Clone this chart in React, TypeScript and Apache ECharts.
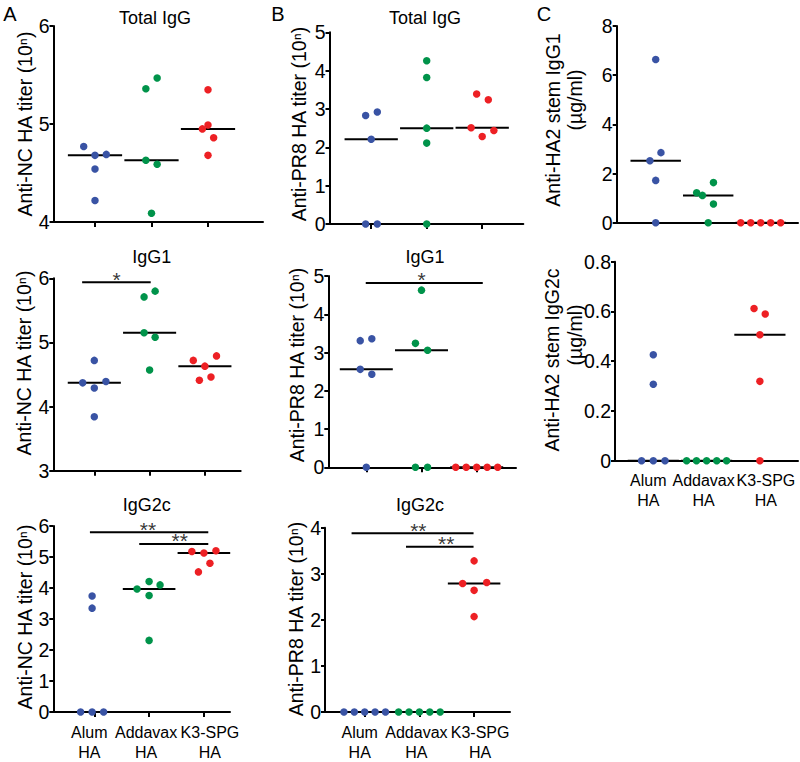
import React, { useEffect, useRef } from 'react';
import * as echarts from 'echarts';

const FONT = "'Liberation Sans', Arial, Helvetica, sans-serif";

// Group names (x categories) and colours
const groupLabels = ['Alum\nHA', 'Addavax\nHA', 'K3-SPG\nHA'];
const groupColors = ['#3953a4', '#00934a', '#ed2024'];

// ---------- Panel A: Anti-NC HA titer (10^n) ----------
const aTotalAlum = [4.77, 4.68, 4.69, 4.54, 4.22];
const aTotalAddavax = [5.36, 5.47, 4.63, 4.59, 4.09];
const aTotalK3 = [5.35, 4.95, 4.99, 4.86, 4.68];

const aIgG1Alum = [4.37, 4.72, 4.39, 4.29, 3.84];
const aIgG1Addavax = [5.71, 5.8, 5.15, 5.08, 4.57];
const aIgG1K3 = [4.72, 4.63, 4.79, 4.41, 4.46];

const aIgG2cAlum = [0, 0, 0, 3.74, 3.35];
const aIgG2cAddavax = [3.97, 4.21, 4.1, 3.76, 2.31];
const aIgG2cK3 = [5.18, 5.13, 5.2, 4.8, 4.52];

// ---------- Panel B: Anti-PR8 HA titer (10^n) ----------
const bTotalAlum = [2.83, 2.92, 2.21, 0, 0];
const bTotalAddavax = [4.26, 3.82, 2.5, 2.11, 0];
const bTotalK3 = [3.39, 3.24, 2.51, 2.44, 2.28];

const bIgG1Alum = [3.31, 3.36, 2.56, 2.43, 0];
const bIgG1Addavax = [4.63, 3.24, 3.06, 0, 0];
const bIgG1K3 = [0, 0, 0, 0, 0];

const bIgG2cAlum = [0, 0, 0, 0, 0];
const bIgG2cAddavax = [0, 0, 0, 0, 0];
const bIgG2cK3 = [3.28, 2.79, 2.81, 2.64, 2.07];

// ---------- Panel C: Anti-HA2 stem (µg/ml) ----------
const cIgG1Alum = [6.64, 2.85, 2.52, 1.72, 0];
const cIgG1Addavax = [1.22, 1.11, 1.63, 0.76, 0];
const cIgG1K3 = [0, 0, 0, 0, 0];

const cIgG2cAlum = [0, 0, 0, 0.426, 0.307];
const cIgG2cAddavax = [0, 0, 0, 0, 0];
const cIgG2cK3 = [0.612, 0.59, 0.506, 0.319, 0];

// Horizontal scatter (jitter) of the dots, in category units
const jitAtotal = [[-0.2, 0, 0.2, 0, 0], [-0.1, 0.1, -0.1, 0.1, 0], [0, -0.1, 0, 0.1, 0]];
const jitAigg1 = [[-0.21, 0, 0.21, 0, 0], [-0.1, 0.1, -0.1, 0.1, 0], [-0.21, 0, 0.21, -0.1, 0.11]];
const jitAigg2c = [[-0.25, -0.04, 0.17, -0.04, -0.04], [-0.22, 0, 0.2, 0, 0], [-0.22, 0, 0.22, 0.11, -0.1]];
const jitBtotal = [[-0.1, 0.11, 0, -0.1, 0.11], [0, 0, 0, 0, 0], [-0.1, 0.11, -0.2, 0.21, 0]];
const jitBigg1 = [[-0.11, 0.1, -0.11, 0.1, 0], [0, -0.11, 0.11, -0.11, 0.11], [-0.38, -0.19, 0, 0.19, 0.38]];
const jitBigg2c = [[-0.38, -0.19, 0, 0.19, 0.38], [-0.38, -0.19, 0, 0.19, 0.38], [0, -0.21, 0.23, 0, 0]];
const jitCigg1 = [[0, 0.1, -0.11, 0, 0], [-0.22, -0.11, 0.1, 0.1, 0], [-0.38, -0.19, 0, 0.19, 0.38]];
const jitCigg2c = [[-0.22, 0, 0.22, 0, 0], [-0.375, -0.19, 0, 0.19, 0.375], [-0.11, 0.1, 0, 0, 0]];

// Significance brackets: [from category, to category, y value, mark, mark position]
const sigAigg1: [number, number, number, string, number][] = [[0.78, 2.02, 5.94, '*', 1.405]];
const sigAigg2c: [number, number, number, string, number][] = [
  [0.92, 3.08, 5.8, '**', 1.98],
  [1.82, 3.08, 5.42, '**', 2.56],
];
const sigBigg1: [number, number, number, string, number][] = [[0.99, 3.11, 4.82, '*', 2.0]];
const sigBigg2c: [number, number, number, string, number][] = [
  [0.76, 2.99, 3.88, '**', 1.98],
  [1.755, 2.99, 3.585, '**', 2.49],
];

type Panel = {
  box: { left: number; top: number; right: number; bottom: number; c1: number; sp: number };
  y: [number, number, number];
  groups: number[][];
  jitter: number[][];
  ticks: boolean;
  labels: boolean;
  sig: [number, number, number, string, number][];
};

const panels: Panel[] = [
  { box: { left: 53.5, top: 26, right: 263, bottom: 222, c1: 95, sp: 56.5 }, y: [4, 6, 1],
    groups: [aTotalAlum, aTotalAddavax, aTotalK3], jitter: jitAtotal, ticks: true, labels: false, sig: [] },
  { box: { left: 53.3, top: 278.3, right: 240.7, bottom: 470.7, c1: 94.3, sp: 55.3 }, y: [3, 6, 1],
    groups: [aIgG1Alum, aIgG1Addavax, aIgG1K3], jitter: jitAigg1, ticks: true, labels: false, sig: sigAigg1 },
  { box: { left: 53.3, top: 526, right: 230, bottom: 720, c1: 94.3, sp: 54.8 }, y: [0, 6, 1],
    groups: [aIgG2cAlum, aIgG2cAddavax, aIgG2cK3], jitter: jitAigg2c, ticks: true, labels: true, sig: sigAigg2c },
  { box: { left: 329.5, top: 32.3, right: 523.3, bottom: 224, c1: 371.2, sp: 55.5 }, y: [0, 5, 1],
    groups: [bTotalAlum, bTotalAddavax, bTotalK3], jitter: jitBtotal, ticks: true, labels: false, sig: [] },
  { box: { left: 328.3, top: 276, right: 516, bottom: 467.3, c1: 366.3, sp: 55.2 }, y: [0, 5, 1],
    groups: [bIgG1Alum, bIgG1Addavax, bIgG1K3], jitter: jitBigg1, ticks: true, labels: false, sig: sigBigg1 },
  { box: { left: 325, top: 527.7, right: 510, bottom: 720.7, c1: 364.7, sp: 54.7 }, y: [0, 4, 1],
    groups: [bIgG2cAlum, bIgG2cAddavax, bIgG2cK3], jitter: jitBigg2c, ticks: true, labels: true, sig: sigBigg2c },
  { box: { left: 616.7, top: 26, right: 798, bottom: 222.7, c1: 655.7, sp: 52.5 }, y: [0, 8, 2],
    groups: [cIgG1Alum, cIgG1Addavax, cIgG1K3], jitter: jitCigg1, ticks: false, labels: false, sig: [] },
  { box: { left: 615, top: 261.7, right: 798, bottom: 460.7, c1: 653.3, sp: 53.3 }, y: [0, 0.8, 0.2],
    groups: [cIgG2cAlum, cIgG2cAddavax, cIgG2cK3], jitter: jitCigg2c, ticks: false, labels: true, sig: [] },
];

// Text annotations: [text, x, y, fontSize, rotated]
const texts: [string, number, number, number, boolean][] = [
  ['A', 10, 14, 20, false],
  ['B', 278, 14, 20, false],
  ['C', 544, 14, 20, false],
  ['Total IgG', 155, 18, 18, false],
  ['IgG1', 151.7, 256.7, 18, false],
  ['IgG2c', 146.7, 505, 18, false],
  ['Total IgG', 425, 18, 18, false],
  ['IgG1', 425, 256.7, 18, false],
  ['IgG2c', 420, 505, 18, false],
  ['Anti-NC HA titer (10ⁿ)', 25, 124, 19.5, true],
  ['Anti-NC HA titer (10ⁿ)', 24, 363, 19.5, true],
  ['Anti-NC HA titer (10ⁿ)', 25, 617, 19.5, true],
  ['Anti-PR8 HA titer (10ⁿ)', 299, 124, 19.5, true],
  ['Anti-PR8 HA titer (10ⁿ)', 297, 365, 19.5, true],
  ['Anti-PR8 HA titer (10ⁿ)', 296, 619, 19.5, true],
  ['Anti-HA2 stem IgG1', 553, 120, 19.5, true],
  ['(µg/ml)', 575, 100, 19.5, true],
  ['Anti-HA2 stem IgG2c', 552, 360, 19.5, true],
  ['(µg/ml)', 575, 335, 19.5, true],
];

function median(v: number[]) {
  const s = [...v].sort((a, b) => a - b);
  const n = s.length;
  return n % 2 ? s[(n - 1) / 2] : (s[n / 2 - 1] + s[n / 2]) / 2;
}

const labelFont = { fontSize: 16, lineHeight: 20, color: '#000', fontFamily: FONT };

function catLabel(v: number) {
  const k = Math.round(v) - 1;
  const txt = groupLabels[k];
  if (!txt) return '';
  return txt
    .split('\n')
    .map((s) => `{g${k}|${s}}`)
    .join('\n');
}

const catRich = {
  g0: { ...labelFont, padding: [0, 10, 0, 0] },
  g1: { ...labelFont, padding: [0, 6, 0, 0] },
  g2: { ...labelFont, padding: [0, 0, 0, 12] },
};

function buildOption() {
  const grid: any[] = [];
  const xAxis: any[] = [];
  const extraX: any[] = [];
  const yAxis: any[] = [];
  const series: any[] = [];
  const black = '#000';

  panels.forEach((p, i) => {
    const b = p.box;
    const xmin = 1 - (b.c1 - b.left) / b.sp;
    const xmax = 1 + (b.right - b.c1) / b.sp;
    grid.push({ left: b.left, top: b.top, width: b.right - b.left, height: b.bottom - b.top });
    xAxis.push({
      gridIndex: i,
      type: 'value',
      min: xmin,
      max: xmax,
      axisLine: { show: true, onZero: false, lineStyle: { color: black, width: 2 } },
      axisTick: { show: p.ticks, customValues: [1, 2, 3], length: 5, lineStyle: { color: black, width: 2 } },
      axisLabel: {
        show: p.labels,
        customValues: [1, 3],
        hideOverlap: false,
        formatter: catLabel,
        rich: catRich,
        ...labelFont,
        margin: 10,
      },
      splitLine: { show: false },
    });
    if (p.labels) {
      // second (line-less) axis for the middle label so that labels never hide each other
      extraX.push({
        gridIndex: i,
        type: 'value',
        position: 'bottom',
        min: xmin,
        max: xmax,
        axisLine: { show: false },
        axisTick: { show: false },
        axisLabel: {
          show: true,
          customValues: [2],
          formatter: catLabel,
          rich: catRich,
          ...labelFont,
          margin: 10,
        },
        splitLine: { show: false },
      });
    }
    yAxis.push({
      gridIndex: i,
      type: 'value',
      min: p.y[0],
      max: p.y[1],
      interval: p.y[2],
      axisLine: { show: true, onZero: false, lineStyle: { color: black, width: 2 } },
      axisTick: { show: true, length: 4, lineStyle: { color: black, width: 2 } },
      axisLabel: { fontSize: 19.5, color: black, margin: 4, fontFamily: FONT },
      splitLine: { show: false },
    });

    p.groups.forEach((vals, g) => {
      series.push({
        type: 'scatter',
        xAxisIndex: i,
        yAxisIndex: i,
        data: vals.map((v, k) => [g + 1 + p.jitter[g][k], v]),
        symbolSize: 7.5,
        itemStyle: { color: groupColors[g], opacity: 1 },
        z: 3,
        clip: false,
        silent: true,
      });
      const m = median(vals);
      series.push({
        type: 'line',
        xAxisIndex: i,
        yAxisIndex: i,
        data: [[g + 1 - 0.48, m], [g + 1 + 0.48, m]],
        symbol: 'none',
        lineStyle: { color: black, width: 2 },
        z: 2,
        clip: false,
        silent: true,
      });
    });

    p.sig.forEach(([x1, x2, yv, mark, mx]) => {
      series.push({
        type: 'line',
        xAxisIndex: i,
        yAxisIndex: i,
        data: [[x1, yv], [x2, yv]],
        symbol: 'none',
        lineStyle: { color: black, width: 2 },
        z: 2,
        clip: false,
        silent: true,
      });
      series.push({
        type: 'scatter',
        xAxisIndex: i,
        yAxisIndex: i,
        data: [[mx, yv]],
        symbolSize: 1,
        itemStyle: { color: 'rgba(0,0,0,0)' },
        label: {
          show: true,
          position: 'inside',
          formatter: mark,
          fontSize: 21,
          color: black,
          fontFamily: FONT,
          offset: [0, -3],
        },
        z: 3,
        clip: false,
        silent: true,
      });
    });
  });

  const graphic = texts.map(([t, x, y, fs, rot]) => ({
    type: 'text',
    x,
    y,
    rotation: rot ? Math.PI / 2 : 0,
    silent: true,
    style: {
      text: t,
      fontSize: fs,
      fontFamily: FONT,
      fill: '#000',
      align: 'center',
      verticalAlign: 'middle',
    },
  }));

  return {
    animation: false,
    backgroundColor: '#fff',
    grid,
    xAxis: [...xAxis, ...extraX],
    yAxis,
    series,
    graphic,
  };
}

export default function App() {
  const ref = useRef<HTMLDivElement>(null);
  useEffect(() => {
    if (!ref.current) return;
    const chart = echarts.init(ref.current, undefined, { renderer: 'svg' });
    chart.setOption(buildOption() as any);
    return () => chart.dispose();
  }, []);
  return <div ref={ref} style={{ position: 'absolute', left: 0, top: 0, width: 800, height: 762 }} />;
}
